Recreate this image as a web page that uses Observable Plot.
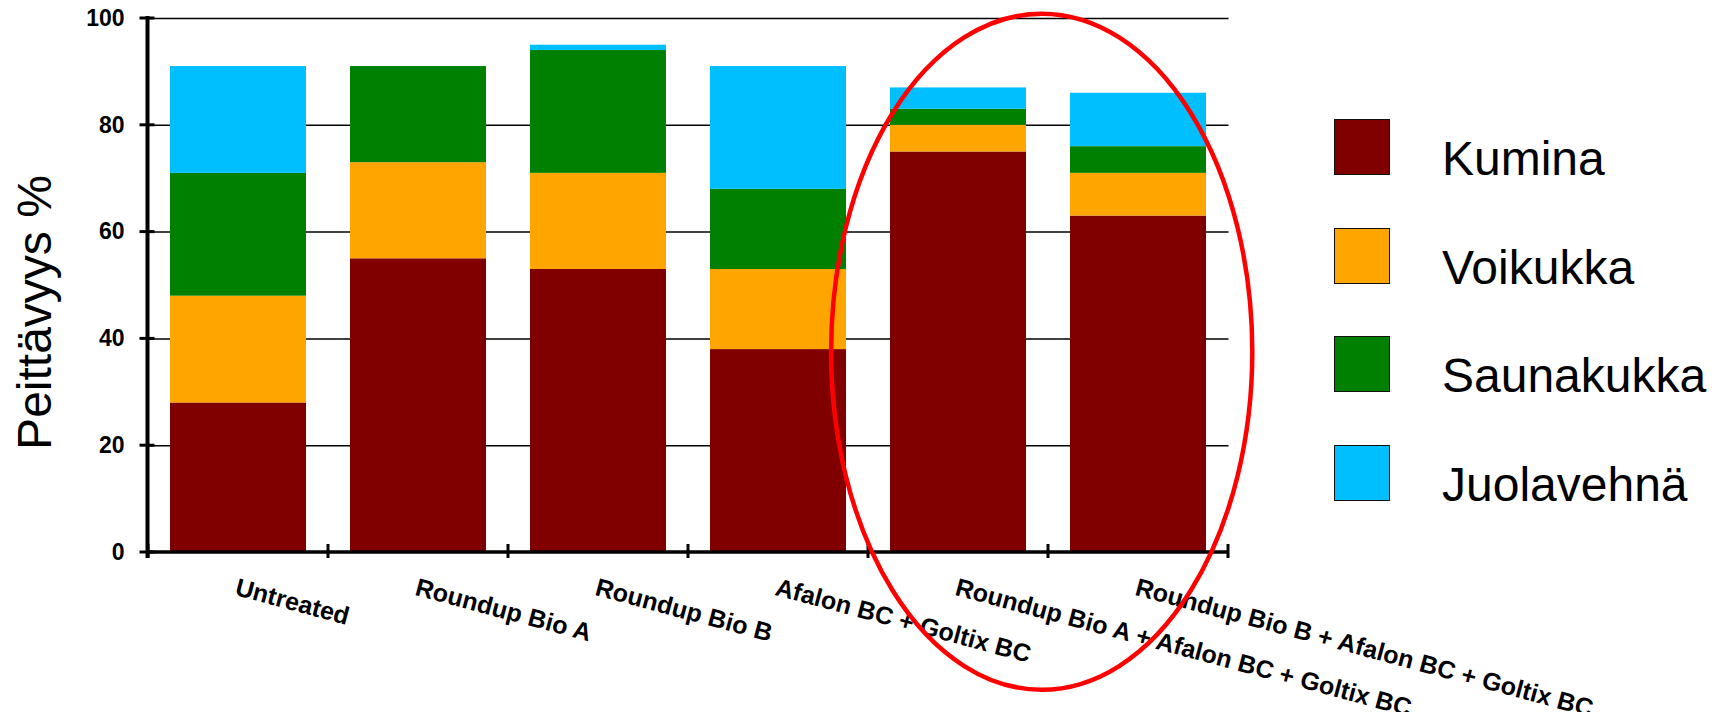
<!DOCTYPE html>
<html>
<head>
<meta charset="utf-8">
<script src="https://cdn.jsdelivr.net/npm/d3@7"></script>
<script src="https://cdn.jsdelivr.net/npm/@observablehq/plot@0.6"></script>
<style>
  html, body { margin: 0; padding: 0; background: #fff; overflow: hidden; }
  #wrap { position: relative; width: 1716px; height: 712px; font-family: "Liberation Sans", Arial, sans-serif; }
  #wrap svg { display: block; }
  #legend { position: absolute; left: 1334px; top: 119px; }
  .row { position: absolute; left: 0; width: 380px; height: 56px; }
  .sw { position: absolute; left: 0; top: 0; width: 54px; height: 54px; border: 1px solid #111; }
  .lab { position: absolute; left: 108px; top: 16px; font-size: 48px; line-height: 48px; color: #000; white-space: nowrap; }
</style>
</head>
<body>
<div id="wrap"><div id="legend"></div></div>
<script>
// ---- data ----
const categories = [
  "Untreated",
  "Roundup Bio A",
  "Roundup Bio B",
  "Afalon BC + Goltix BC",
  "Roundup Bio A + Afalon BC + Goltix BC",
  "Roundup Bio B + Afalon BC + Goltix BC"
];
const seriesNames = ["Kumina", "Voikukka", "Saunakukka", "Juolavehnä"];
const seriesColors = ["#800000", "#FFA500", "#008000", "#00BFFF"];
const kumina     = [28, 55, 53, 38, 75, 63];
const voikukka   = [20, 18, 18, 15,  5,  8];
const saunakukka = [23, 18, 23, 15,  3,  5];
const juolavehna = [20,  0,  1, 23,  4, 10];
const yTicks = [0, 20, 40, 60, 80, 100];
const yLabel = "Peittävyys %";
// highlighted group (red ellipse), in data units
const highlight = { from: categories[4], to: categories[5], xShift: -0.035, xExtra: 0.67, yCenter: 37.5, yRadius: 63.3 };

// ---- table ----
const seriesValues = [kumina, voikukka, saunakukka, juolavehna];
const rows = [];
categories.forEach((c, i) => {
  seriesNames.forEach((s, j) => rows.push({ category: c, series: s, value: seriesValues[j][i] }));
});

const W = 1716, H = 712;
const mL = 147.5, mR = 487.5, mT = 18, mB = 160;
const padInner = 0.247;

function axesMark(index, scales, values, dims) {
  const { x, y } = scales;
  const x0 = dims.marginLeft, x1 = dims.width - dims.marginRight;
  const y0 = dims.height - dims.marginBottom;
  const step = x(categories[1]) - x(categories[0]);
  const g = d3.create("svg:g").attr("stroke", "#000");
  g.append("line").attr("x1", x0).attr("x2", x0).attr("y1", y(100) - 2).attr("y2", y0 + 6).attr("stroke-width", 4);
  g.append("line").attr("x1", x0).attr("x2", x1).attr("y1", y0).attr("y2", y0).attr("stroke-width", 3.5);
  for (const t of yTicks) {
    g.append("line").attr("x1", x0 - 8).attr("x2", x0 + 7).attr("y1", y(t)).attr("y2", y(t)).attr("stroke-width", 3);
  }
  const bounds = categories.map(c => x(c) - (step - x.bandwidth()) / 2);
  bounds.push(bounds[bounds.length - 1] + step);
  for (const b of bounds) {
    g.append("line").attr("x1", b).attr("x2", b).attr("y1", y0 - 8).attr("y2", y0 + 6).attr("stroke-width", 3);
  }
  return g.node();
}

function ellipseMark(index, scales) {
  const { x, y } = scales;
  const step = x(categories[1]) - x(categories[0]);
  const a = x(highlight.from) + x.bandwidth() / 2, b = x(highlight.to) + x.bandwidth() / 2;
  const cx = (a + b) / 2 + highlight.xShift * step;
  const rx = (b - a) / 2 + highlight.xExtra * step;
  const cy = y(highlight.yCenter);
  const ry = Math.abs(y(0) - y(highlight.yRadius));
  const g = d3.create("svg:g");
  g.append("ellipse").attr("cx", cx).attr("cy", cy).attr("rx", rx).attr("ry", ry)
    .attr("fill", "none").attr("stroke", "#FF0000").attr("stroke-width", 4.5);
  return g.node();
}

const plot = Plot.plot({
  width: W, height: H,
  marginLeft: mL, marginRight: mR, marginTop: mT, marginBottom: mB,
  style: { fontFamily: "'Liberation Sans', Arial, sans-serif", background: "#fff", overflow: "visible", color: "#000" },
  x: { domain: categories, paddingInner: padInner, paddingOuter: padInner / 2, axis: null },
  y: { domain: [0, 100], axis: null },
  color: { domain: seriesNames, range: seriesColors },
  marks: [
    Plot.ruleY(yTicks.filter(t => t > 0), { stroke: "#000", strokeWidth: 1.5 }),
    Plot.barY(rows, { x: "category", y: "value", fill: "series", order: seriesNames }),
    axesMark,
    Plot.text(yTicks, { y: d => d, text: d => String(d), frameAnchor: "left", textAnchor: "end", dx: -23.5, fontSize: 23, fontWeight: "bold" }),
    Plot.text(categories, { x: d => d, text: d => d, frameAnchor: "bottom", textAnchor: "start", lineAnchor: "top", rotate: 15, dy: 25, fontSize: 25, fontWeight: "bold" }),
    Plot.text([yLabel], { frameAnchor: "left", text: d => d, rotate: -90, textAnchor: "middle", lineAnchor: "bottom", dx: -97.5, dy: 27, fontSize: 48 }),
    ellipseMark
  ]
});

const wrap = document.getElementById("wrap");
wrap.insertBefore(plot, wrap.firstChild);

// legend
const legend = document.getElementById("legend");
const rowGap = 108.7;
seriesNames.forEach((s, i) => {
  const r = document.createElement("div");
  r.className = "row";
  r.style.top = (i * rowGap) + "px";
  const sw = document.createElement("div");
  sw.className = "sw";
  sw.style.background = seriesColors[i];
  const lab = document.createElement("div");
  lab.className = "lab";
  lab.textContent = s;
  r.appendChild(sw); r.appendChild(lab);
  legend.appendChild(r);
});
</script>
</body>
</html>
